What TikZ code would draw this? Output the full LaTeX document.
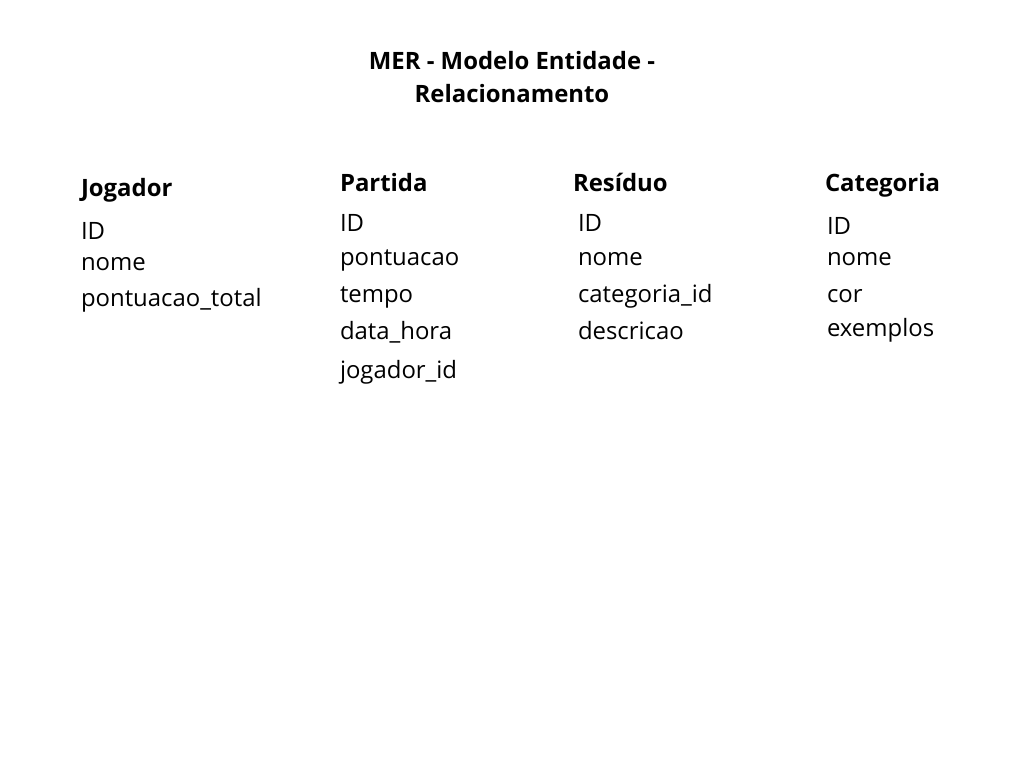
\documentclass[tikz,border=0pt]{standalone}
\usepackage{fontspec}
\setmainfont{Open Sans}
\begin{document}
\begin{tikzpicture}[x=1pt,y=-1pt,
  every node/.style={inner sep=0pt,outer sep=0pt},
  attr/.style={anchor=base west,font=\fontsize{23.9}{26}\selectfont},
  ent/.style={anchor=base west,font=\fontsize{23.9}{26}\bfseries\selectfont},
  ttl/.style={anchor=base,font=\fontsize{23.9}{26}\bfseries\selectfont}]
\useasboundingbox[fill=white] (0,0) rectangle (1024,768);
\node[ttl] (t1) at (512,69) {MER - Modelo Entidade -};
\node[ttl] (t2) at (512,102) {Relacionamento};
% Jogador
\node[ent] (jog) at (81,196) {Jogador};
\node[attr] (j1) at (81,239) {ID};
\node[attr] (j2) at (81,270) {nome};
\node[attr] (j3) at (81,306) {pontuacao\_total};
% Partida
\node[ent] (par) at (340,191) {Partida};
\node[attr] (p1) at (340,231) {ID};
\node[attr] (p2) at (340,265) {pontuacao};
\node[attr] (p3) at (340,302) {tempo};
\node[attr] (p4) at (340,339) {data\_hora};
\node[attr] (p5) at (340,378) {jogador\_id};
% Residuo
\node[ent] (res) at (573,191) {Resíduo};
\node[attr] (r1) at (578,231) {ID};
\node[attr] (r2) at (578,265) {nome};
\node[attr] (r3) at (578,302) {categoria\_id};
\node[attr] (r4) at (578,339) {descricao};
% Categoria
\node[ent] (cat) at (825,191) {Categoria};
\node[attr] (c1) at (827,234) {ID};
\node[attr] (c2) at (827,265) {nome};
\node[attr] (c3) at (827,302) {cor};
\node[attr] (c4) at (827,336) {exemplos};
\end{tikzpicture}
\end{document}
